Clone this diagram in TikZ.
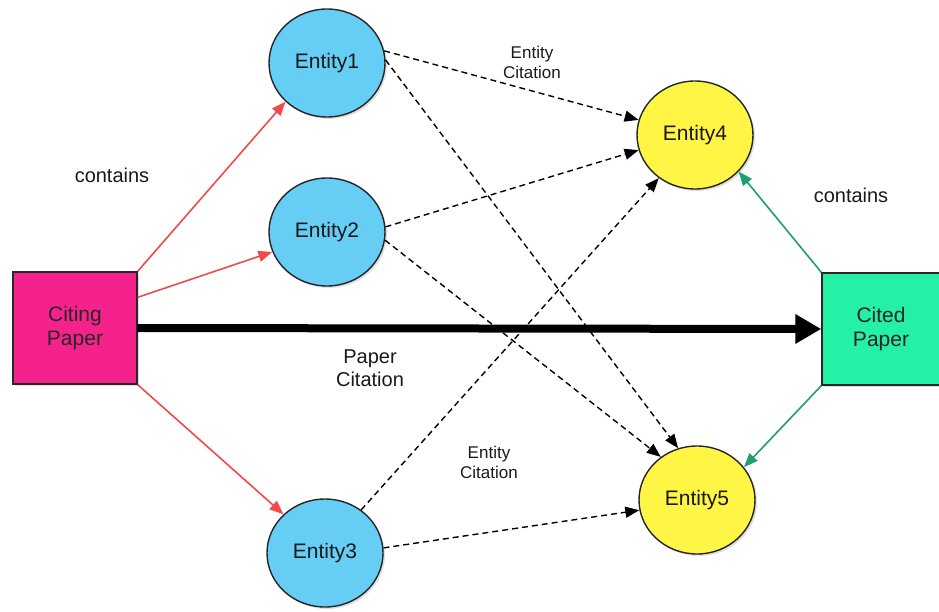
\documentclass[tikz,border=0pt]{standalone}
\usepackage{fontspec}
\setmainfont{Liberation Sans}
\usetikzlibrary{arrows.meta,shadows,shapes.geometric}
\definecolor{citing}{HTML}{F5228C}
\definecolor{cited}{HTML}{24F0A6}
\definecolor{entblue}{HTML}{66CDF5}
\definecolor{entyel}{HTML}{FFF544}
\definecolor{redarr}{HTML}{F24A4A}
\definecolor{greenarr}{HTML}{1F9E70}
\begin{document}
\begin{tikzpicture}[x=1pt,y=-1pt,
  paperbox/.style={draw=black!85,line width=1.4pt,minimum width=124pt,minimum height=112pt,align=center,font=\fontsize{21}{24}\selectfont,text=black!85,drop shadow={opacity=0.25,shadow xshift=2pt,shadow yshift=-2pt}},
  entity/.style={ellipse,draw=black!85,line width=1.4pt,minimum width=116pt,minimum height=108pt,font=\fontsize{21}{24}\selectfont,text=black!90,drop shadow={opacity=0.25,shadow xshift=2pt,shadow yshift=-2pt}},
  contarrow/.style={line width=1.6pt,-{Triangle[length=14pt,width=11pt]}},
  citearrow/.style={line width=1.4pt,dash pattern=on 6pt off 4pt,-{Triangle[length=14pt,width=11pt]}},
  lbl/.style={font=\fontsize{20}{23}\selectfont,text=black!90,align=center},
  slbl/.style={font=\fontsize{17}{20}\selectfont,text=black!90,align=center}]
\useasboundingbox (0,0) rectangle (939,612);
\node[paperbox,fill=citing] (citing) at (75,328) {Citing\\Paper};
\node[paperbox,fill=cited,minimum width=118pt] (cited) at (881,329) {Cited\\Paper};
\node[entity,fill=entblue] (e1) at (327,63) {Entity1};
\node[entity,fill=entblue] (e2) at (327,232) {Entity2};
\node[entity,fill=entblue] (e3) at (325,553) {Entity3};
\node[entity,fill=entyel] (e4) at (695,135) {Entity4};
\node[entity,fill=entyel] (e5) at (697,500) {Entity5};
\node[lbl] (c1) at (112,175) {contains};
\node[lbl] (c2) at (851,195) {contains};
\node[lbl] (pc) at (370,368) {Paper\\Citation};
\node[slbl] (ec1) at (532,62) {Entity\\Citation};
\node[slbl] (ec2) at (489,462) {Entity\\Citation};
% contains (red)
\draw[contarrow,draw=redarr,fill=redarr] (citing.north east) -- (e1.south west);
\draw[contarrow,draw=redarr,fill=redarr] ([yshift=-26pt]citing.north east) -- (e2.-160);
\draw[contarrow,draw=redarr,fill=redarr] (citing.south east) -- (e3.north west);
% contains (green)
\draw[contarrow,draw=greenarr,fill=greenarr] (cited.north west) -- (e4.-40);
\draw[contarrow,draw=greenarr,fill=greenarr] (cited.south west) -- (e5.35);
% paper citation
\draw[line width=8pt,-{Triangle[length=26pt,width=28pt]}] (citing.east) -- (cited.west);
% entity citations
\draw[citearrow] (e1.12) -- (e4.165);
\draw[citearrow] (e1.3) -- (e5.110);
\draw[citearrow] (e2.5) -- (e4.-165);
\draw[citearrow] (e2.-8) -- (e5.130);
\draw[citearrow] (e3.50) -- (e4.-130);
\draw[citearrow] (e3.5) -- (e5.-170);
\end{tikzpicture}
\end{document}
